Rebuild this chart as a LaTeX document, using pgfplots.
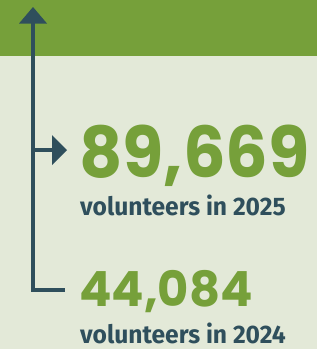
\documentclass[border=0pt]{standalone}
\usepackage{pgfplots}
\pgfplotsset{compat=1.18}
\usepackage{fontspec}
\setmainfont{Fira Sans}
\newfontfamily\numfont{Poppins}[UprightFont=* Bold]
\definecolor{bg}{HTML}{E3E9D8}
\definecolor{band}{HTML}{76A03A}
\definecolor{slate}{HTML}{2F4F5C}
\begin{document}
\begin{tikzpicture}
\begin{axis}[width=317pt,height=349pt,scale only axis,
  xmin=0,xmax=317,ymin=0,ymax=349,y dir=reverse,hide axis,clip=false]
% background
\addplot[draw=none,fill=bg] coordinates {(0,0) (317,0) (317,349) (0,349)} -- cycle;
\addplot[draw=none,fill=band] coordinates {(0,0) (317,0) (317,56) (0,56)} -- cycle;
% connector lines
\addplot[slate,line width=3.5pt,line join=miter] coordinates {(33,22) (33,290) (65,290)};
\addplot[slate,line width=3.5pt] coordinates {(33,150) (54,150)};
% arrowheads
\addplot[draw=none,fill=slate] coordinates {(19,23.5) (33,7) (47,23.5)} -- cycle;
\addplot[draw=none,fill=slate] coordinates {(52,135) (67,150) (52,165)} -- cycle;
% labels
\node[anchor=base west,inner sep=0pt,text=band] at (axis cs:79,177) {\raisebox{0pt}[\height][0pt]{\scalebox{0.905}[0.95]{\numfont\fontsize{74}{74}\selectfont 89,669}}};
\node[anchor=base west,inner sep=0pt,text=slate] at (axis cs:80,215.5) {\raisebox{0pt}[14pt][0pt]{\scalebox{1}[1.03]{\bfseries\fontsize{24.6}{26}\selectfont volunteers in 2025}}};
\node[anchor=base west,inner sep=0pt,text=band] at (axis cs:79,306.5) {\raisebox{0pt}[\height][0pt]{\scalebox{0.96}[0.97]{\numfont\fontsize{50}{50}\selectfont 44,084}}};
\node[anchor=base west,inner sep=0pt,text=slate] at (axis cs:80,343) {\raisebox{0pt}[14pt][0pt]{\scalebox{1}[1.03]{\bfseries\fontsize{24.6}{26}\selectfont volunteers in 2024}}};
\end{axis}
\end{tikzpicture}
\end{document}
